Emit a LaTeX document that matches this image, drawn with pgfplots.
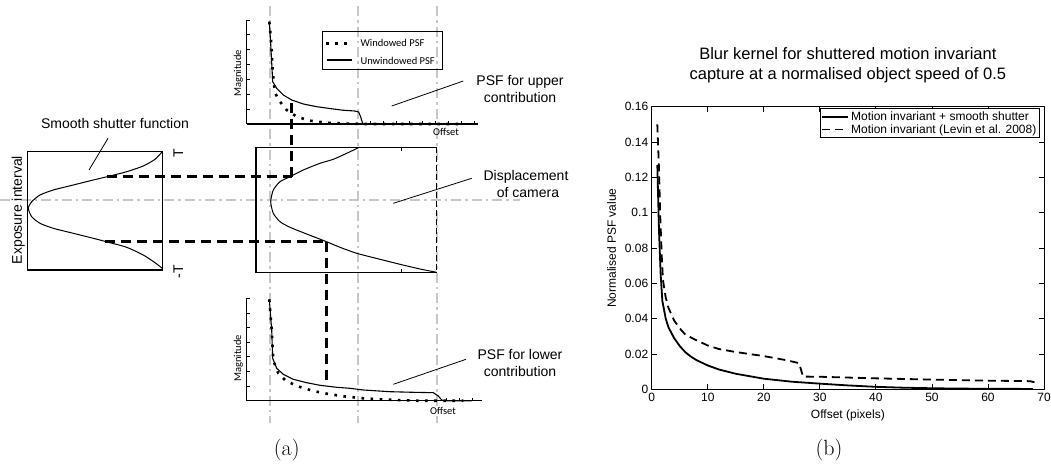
\documentclass[border=0pt]{standalone}
\usepackage{pgfplots}
\pgfplotsset{compat=1.18}
\usepackage{fontspec}
\newfontfamily\arial{Liberation Sans}
\newfontfamily\calib{Carlito}
\newcommand{\fa}{\arial\fontsize{14}{17}\selectfont}
\newcommand{\fc}{\calib\fontsize{10.5}{12}\selectfont}
\newcommand{\fb}{\arial\fontsize{12}{14}\selectfont}
\tikzset{
  graydd/.style={color=black!22, line width=2.8pt, dash pattern=on 10pt off 4pt on 2.5pt off 4pt},
  blkdash/.style={black, line width=2.4pt, dash pattern=on 10pt off 6pt},
  dotsty/.style={black, line width=2.6pt, dash pattern=on 2.6pt off 6.5pt},
  solsty/.style={black, line width=1.1pt},
}
\pgfplotstableread{
x y
1 0.127
1.3 0.09
1.6 0.065
1.9 0.05
2.5 0.04
3 0.035
4 0.029
5 0.0245
6 0.021
7 0.0185
8 0.0165
10 0.0135
12 0.0112
15 0.0088
20 0.006
25 0.0043
30 0.0032
35 0.0022
40 0.0014
45 0.0009
50 0.0006
55 0.0004
60 0.0003
68 0.0002
}\smoothtab
\pgfplotstableread{
x y
1 0.15
1.3 0.125
1.5 0.1
1.8 0.075
2 0.062
2.5 0.052
3 0.046
4 0.039
5 0.0345
6 0.031
7.5 0.0285
10 0.0248
12 0.0228
15 0.0211
20 0.0188
24 0.0165
26.3 0.0148
27 0.0072
30 0.0071
40 0.0062
50 0.0055
60 0.0049
67.5 0.0046
68.3 0.004
}\levintab
\begin{document}
\begin{tikzpicture}
\useasboundingbox (0pt,0pt) rectangle (1051pt,463pt);
% ---------- frame axis for panel (a), pixel coordinates ----------
\begin{axis}[at={(0pt,0pt)},anchor=south west,scale only axis,width=1051pt,height=463pt,
  xmin=0,xmax=1051,ymin=0,ymax=463,y dir=reverse,hide axis,clip=false]
% gray guide lines
\addplot[graydd] coordinates {(270,6) (270,423)};
\addplot[graydd] coordinates {(358,6) (358,423)};
\addplot[graydd] coordinates {(437,6) (437,423)};
\addplot[graydd] coordinates {(0,200) (520,200)};
% left box
\addplot[black,line width=1.3pt] coordinates {(27.3,151.7) (162.3,151.7) (162.3,270) (27.3,270) (27.3,151.7) (30,151.7)};
\addplot[black,line width=1pt,smooth,tension=0.4] coordinates {
(162.3,151.7) (155,159.3) (143.3,166) (126.7,171.7) (110,176) (93.3,180) (73.3,185) (53.3,190) (40,195) (31.7,201.7) (28.3,208.3)
(31.7,216.7) (40,223.3) (53.3,228.3) (73.3,233.3) (93.3,238.3) (110,242.7) (126.7,247.3) (143.3,255) (155,262.7) (162.3,268.3)};
% middle box
\addplot[black,line width=1.3pt] coordinates {(436.7,147.3) (256,147.3) (256,272.3) (436.7,272.3)};
\addplot[black,line width=1.3pt,dash pattern=on 6pt off 3pt] coordinates {(436.7,147.3) (436.7,272.3)};
\addplot[black,line width=0.8pt] coordinates {(401.7,147.3) (401.7,150.8)};
\addplot[black,line width=0.8pt] coordinates {(401.7,272.3) (401.7,268.8)};
\addplot[black,line width=1pt,smooth,tension=0.4] coordinates {
(358.3,147.8) (346.7,153.3) (333.3,159.3) (320,163.3) (303.3,170) (290,176.7) (280,181.7) (273.3,190) (270.7,201.7)
(273.3,213.3) (280,221.7) (290,227.3) (306.7,234) (326,241.5) (340,247.3) (356.7,253.3) (380,259.3) (400,264.3) (420,269) (436.7,272.3)};
% dashed connectors
\addplot[blkdash] coordinates {(106.7,176.5) (292,176.5)};
\addplot[blkdash] coordinates {(291.5,176.5) (291.5,101)};
\addplot[blkdash] coordinates {(105,241.5) (327,241.5)};
\addplot[blkdash] coordinates {(326.3,241.5) (326.3,385)};
% pointer lines
\addplot[black,line width=0.8pt] coordinates {(463.3,81) (391.7,106)};
\addplot[black,line width=0.8pt] coordinates {(471.7,178.3) (393.3,203.3)};
\addplot[black,line width=0.8pt] coordinates {(466,359.3) (393.3,384.3)};
\addplot[black,line width=0.8pt] coordinates {(108,138.3) (89,170)};
% upper legend
\addplot[black,line width=1pt] coordinates {(322.7,31.7) (442,31.7) (442,69.3) (322.7,69.3) (322.7,31.7) (325,31.7)};
\addplot[dotsty] coordinates {(326,43.3) (350,43.3)};
\addplot[solsty] coordinates {(327,60) (352,60)};
\node[font=\fc,anchor=west] at (axis cs:357,43.3) {Windowed PSF};
\node[font=\fc,anchor=west] at (axis cs:357,60.7) {Unwindowed PSF};
% labels
\node[font=\fa] at (axis cs:115,123.3) {Smooth shutter function};
\node[font=\fa,rotate=90] at (axis cs:18.3,210) {Exposure interval};
\node[font=\fa,rotate=90] at (axis cs:178.3,153.3) {T};
\node[font=\fa,rotate=90] at (axis cs:178.3,272) {-T};
\node[font=\fa,align=center] at (axis cs:520,88.7) {PSF for upper\\contribution};
\node[font=\fa,align=center] at (axis cs:526,184) {Displacement\\\ of camera};
\node[font=\fa,align=center] at (axis cs:520,363.3) {PSF for lower\\contribution};
\node[font=\fc,rotate=90] at (axis cs:238.3,73.3) {Magnitude};
\node[font=\fc,rotate=90] at (axis cs:238.3,358.3) {Magnitude};
\node[font=\fc] at (axis cs:446,132) {Offset};
\node[font=\fc] at (axis cs:443,411) {Offset};
\node[font=\fontsize{22}{26}\selectfont] at (axis cs:286.7,450) {(a)};
\node[font=\fontsize{22}{26}\selectfont] at (axis cs:829,450) {(b)};
\end{axis}
% ---------- upper mini plot ----------
\begin{axis}[at={(246.7pt,339pt)},anchor=south west,scale only axis,
 width=231.6pt,height=104pt,xmin=0,xmax=231.6,ymin=0,ymax=104,
 axis x line=bottom, axis y line=left, axis line style={-,line width=1.2pt},
 xtick={124,137,...,228}, ytick={14.857,29.714,44.571,59.429,74.286,89.143,104},
 xticklabels={}, yticklabels={}, tick align=inside, major tick length=3pt,
 tick style={black,line width=0.8pt}, clip=false]
\addplot[solsty] coordinates {(22.6,102.3) (24,80) (26,42.3) (30,35.7) (36.6,29) (45,24) (56.6,20) (70,17.3) (83,15.5) (96,13.8) (108,13) (112,12) (114,7) (116,0.5) (118,0) (216,0)};
\addplot[dotsty] coordinates {(22.6,102.3) (24,88) (25,74) (26,52) (28.3,31) (33.3,22.3) (40,14) (50,7.3) (63.3,3.3) (80,1.3) (96.6,0.5) (120,0) (216,0)};
\end{axis}
% ---------- lower mini plot ----------
\begin{axis}[at={(246.7pt,62.3pt)},anchor=south west,scale only axis,
 width=235pt,height=102.4pt,xmin=0,xmax=235,ymin=0,ymax=102.4,
 axis x line=bottom, axis y line=left, axis line style={-,line width=1.2pt},
 xtick={200,213,...,226}, ytick={14.63,29.26,43.89,58.51,73.14,87.77,102.4},
 xticklabels={}, yticklabels={}, tick align=inside, major tick length=3pt,
 tick style={black,line width=0.8pt}, clip=false]
\addplot[solsty] coordinates {(22.6,101.4) (25,70.7) (26,42.4) (30,32.4) (36.6,26.4) (46.6,21.4) (60,18) (73.3,15.4) (90,13.4) (103.3,12.4) (116.6,10.7) (143.3,9) (166.6,8.4) (186.6,8) (191.6,4.7) (195,0.7) (197,0) (225,0)};
\addplot[dotsty] coordinates {(22.6,101.4) (25,70.7) (26.6,40) (31.6,27.4) (38.3,20.7) (50,14.7) (66.6,9.7) (83.3,6.4) (100,4) (116.6,2.4) (133.3,1.4) (150,0.7) (170,0) (216.6,0)};
\end{axis}
% ---------- panel (b) ----------
\begin{axis}[at={(651.7pt,73.7pt)},anchor=south west,scale only axis,
 width=392.3pt,height=282.6pt,
 xmin=0,xmax=70,ymin=0,ymax=0.16,
 xtick={0,10,20,30,40,50,60,70}, ytick={0,0.02,0.04,0.06,0.08,0.1,0.12,0.14,0.16},
 xticklabels={0,10,20,30,40,50,60,70},
 yticklabels={0,0.02,0.04,0.06,0.08,0.1,0.12,0.14,0.16},
 tick align=inside, xtick pos=both, ytick pos=both, major tick length=5pt,
 tick style={black,line width=0.8pt},
 axis line style={line width=1pt},
 ticklabel style={font=\fb},
 xlabel={Offset (pixels)}, ylabel={Normalised PSF value},
 label style={font=\fb},
 xlabel style={at={(axis description cs:0.5,-0.091)},anchor=center},
 ylabel style={at={(axis description cs:-0.102,0.5)},anchor=center},
 title={Blur kernel for shuttered motion invariant\\capture at a normalised object speed of 0.5},
 title style={font=\arial\fontsize{16.5}{20}\selectfont,align=center,at={(axis description cs:0.5,1.124)},anchor=center},
 legend style={at={(axis description cs:0.9898,0.9954)},anchor=north east,draw=black,line width=1.3pt,
   font=\fb,inner sep=1pt,row sep=-1.5pt,cells={anchor=west}},
 legend image code/.code={\draw[#1,line width=1.8pt] (0pt,0pt) -- (26pt,0pt);},
 clip=false]
\addplot[black,line width=1.8pt] table[x=x,y=y] {\smoothtab};
\addlegendentry{Motion invariant + smooth shutter}
\addplot[black,line width=1.8pt,dash pattern=on 8pt off 5pt] table[x=x,y=y] {\levintab};
\addlegendentry{Motion invariant (Levin et al. 2008)}
\end{axis}
\end{tikzpicture}
\end{document}
